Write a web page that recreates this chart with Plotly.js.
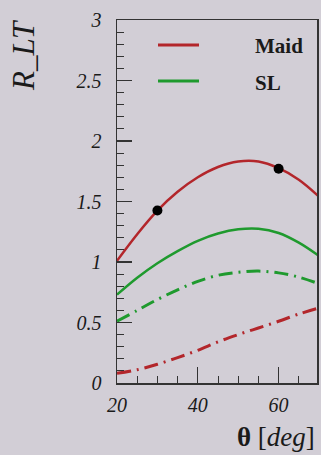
<!DOCTYPE html>
<html>
<head>
<meta charset="utf-8">
<script src="https://cdn.plot.ly/plotly-3.0.1.min.js"></script>
<style>
html,body{margin:0;padding:0;background:#d2ced6;}
#chart{width:321px;height:455px;}
</style>
</head>
<body>
<div id="chart"></div>
<script>
// Data
const theta = [20, 25, 30, 35, 40, 45, 50, 55, 60, 65, 70];
const maidSolid = [1.01, 1.23, 1.425, 1.58, 1.70, 1.785, 1.83, 1.83, 1.775, 1.68, 1.54];
const slSolid = [0.73, 0.87, 0.99, 1.09, 1.175, 1.235, 1.27, 1.275, 1.24, 1.16, 1.05];
const slDashDot = [0.51, 0.60, 0.69, 0.77, 0.84, 0.89, 0.915, 0.925, 0.91, 0.875, 0.82];
const maidDashDot = [0.08, 0.11, 0.155, 0.21, 0.27, 0.34, 0.40, 0.455, 0.51, 0.57, 0.62];
const pointTheta = [30, 60];
const pointValues = [1.425, 1.77];
const yTickVals = [0, 0.5, 1, 1.5, 2, 2.5, 3];
const yTickText = ['0', '0.5', '1', '1.5', '2', '2.5', '3'];
const xTickVals = [20, 40, 60];
const xTickText = ['20', '40', '60'];
const legendNames = ['Maid', 'SL'];

const red = '#b3262b';
const green = '#1f9a2e';
const serif = 'Liberation Serif, Times New Roman, serif';

const traces = [
  {x: theta, y: maidSolid, mode: 'lines', line: {color: red, width: 2.5, shape: 'spline'}, name: legendNames[0]},
  {x: theta, y: slSolid, mode: 'lines', line: {color: green, width: 2.5, shape: 'spline'}, name: legendNames[1]},
  {x: theta, y: slDashDot, mode: 'lines', line: {color: green, width: 3, shape: 'spline', dash: '14px,6px,2px,6px'}},
  {x: theta, y: maidDashDot, mode: 'lines', line: {color: red, width: 3, shape: 'spline', dash: '14px,6px,2px,6px'}},
  {x: pointTheta, y: pointValues, mode: 'markers', marker: {color: '#000', size: 10}}
];

const axisCommon = {
  showgrid: false, zeroline: false, showline: true, mirror: true,
  linecolor: '#333', linewidth: 1.5, ticks: 'inside', tickcolor: '#333', tickwidth: 1.2,
  tickfont: {family: serif, size: 20, style: 'italic', color: '#1a1a1a'}
};

const layout = {
  width: 321, height: 455,
  margin: {l: 117, r: 4, t: 20, b: 72},
  paper_bgcolor: '#d2ced6', plot_bgcolor: '#d2ced6',
  showlegend: false,
  xaxis: Object.assign({}, axisCommon, {
    range: [20, 69.5], tickmode: 'array', tickvals: xTickVals, ticktext: xTickText,
    ticklen: 16, ticklabelstandoff: 3,
    minor: {dtick: 5, tick0: 20, ticks: 'inside', ticklen: 7, tickcolor: '#333', tickwidth: 1}
  }),
  yaxis: Object.assign({}, axisCommon, {
    range: [0, 3], tickmode: 'array', tickvals: yTickVals, ticktext: yTickText,
    ticklen: 15, ticklabelstandoff: 10,
    minor: {dtick: 0.1, tick0: 0, ticks: 'inside', ticklen: 7, tickcolor: '#333', tickwidth: 1}
  }),
  shapes: [
    {type: 'line', xref: 'paper', yref: 'paper', x0: 0.205, x1: 0.41, y0: 0.931, y1: 0.931, line: {color: red, width: 3}},
    {type: 'line', xref: 'paper', yref: 'paper', x0: 0.205, x1: 0.41, y0: 0.832, y1: 0.832, line: {color: green, width: 3}}
  ],
  annotations: [
    {xref: 'paper', yref: 'paper', x: 0.68, y: 0.928, xanchor: 'left', yanchor: 'middle', showarrow: false,
     text: '<b>' + legendNames[0] + '</b>', font: {family: serif, size: 21, color: '#1a1a1a'}},
    {xref: 'paper', yref: 'paper', x: 0.68, y: 0.826, xanchor: 'left', yanchor: 'middle', showarrow: false,
     text: '<b>' + legendNames[1] + '</b>', font: {family: serif, size: 21, color: '#1a1a1a'}},
    {xref: 'paper', yref: 'paper', x: -0.465, y: 0.9036, xanchor: 'center', yanchor: 'middle', showarrow: false,
     textangle: -90, text: 'R_LT', font: {family: serif, size: 31, style: 'italic', color: '#1a1a1a'}},
    {xref: 'paper', yref: 'paper', x: 1.0, y: -0.149, xanchor: 'right', yanchor: 'middle', showarrow: false,
     text: '<b>θ</b> [<i>deg</i>]', font: {family: serif, size: 27, color: '#1a1a1a'}}
  ]
};

Plotly.newPlot('chart', traces, layout, {displayModeBar: false, staticPlot: true});
</script>
</body>
</html>
